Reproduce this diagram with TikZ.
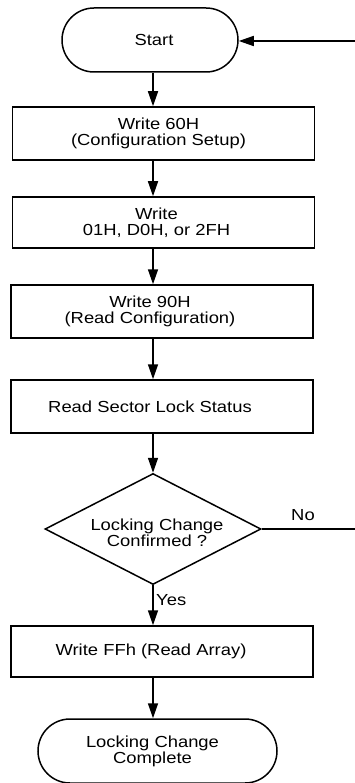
\documentclass[tikz,border=0pt]{standalone}
\usepackage{fontspec}
\setmainfont{Liberation Sans}[FakeStretch=1.15]
\usetikzlibrary{shapes.geometric,arrows.meta}
\begin{document}
\begin{tikzpicture}[x=1pt,y=-1pt,
  every node/.style={font=\fontsize{16}{16}\selectfont},
  stepbox/.style={draw, line width=1.5pt, minimum width=302pt, minimum height=52pt, inner sep=0pt},
  term/.style={draw, line width=1.5pt, rounded corners=32pt, minimum height=64pt, inner sep=0pt},
  decide/.style={draw, diamond, aspect=1.95, line width=1.5pt, minimum width=216pt, minimum height=111pt, inner sep=0pt},
  boxtext/.style={align=center, inner sep=0pt},
  arr/.style={line width=1.5pt, -{Triangle[length=15pt,width=10pt]}},
  flow/.style={line width=1.5pt},
  lbl/.style={inner sep=0pt}]
\useasboundingbox (0,0) rectangle (355,783);
% shapes
\node[term, minimum width=176pt] (start) at (150,40) {};
\node[stepbox, minimum height=53pt] (b1) at (163.5,133.5) {};
\node[stepbox, minimum height=51pt] (b2) at (163.5,222.5) {};
\node[stepbox, minimum height=53pt] (b3) at (162,311.5) {};
\node[stepbox, minimum height=53pt] (b4) at (162,406.5) {};
\node[decide] (d) at (153,529) {};
\node[stepbox, minimum height=51pt] (b5) at (162,651.5) {};
\node[term, minimum width=239pt] (end) at (157.5,751) {};
% texts
\node[boxtext] (startt) at ([xshift=4pt]start.center) {Start};
\node[boxtext] (b1t) at ([xshift=-5pt]b1.center) {Write 60H\\(Configuration Setup)};
\node[boxtext] (b2t) at ([xshift=-7pt]b2.center) {Write\\01H, D0H, or 2FH};
\node[boxtext] (b3t) at ([xshift=-12pt]b3.center) {Write 90H\\(Read Configuration)};
\node[boxtext] (b4t) at ([xshift=-12pt]b4.center) {Read Sector Lock Status};
\node[boxtext] (dt) at ([xshift=4pt,yshift=-4pt]d.center) {Locking Change\\Confirmed ?};
\node[boxtext] (b5t) at ([xshift=-11pt]b5.center) {Write FFh (Read Array)};
\node[boxtext] (endt) at ([xshift=-5pt]end.center) {Locking Change\\Complete};
\node[lbl] (no) at (303,515) {No};
\node[lbl, anchor=west] (yes) at (156,600) {Yes};
% connectors
\coordinate (col) at (153,0);
\coordinate (loopin) at (356,41);
\coordinate (noend) at (356,529);
\draw[arr] (loopin) -- (loopin -| start.east);
\draw[arr] (col |- start.south) -- (col |- b1.north);
\draw[arr] (col |- b1.south) -- (col |- b2.north);
\draw[arr] (col |- b2.south) -- (col |- b3.north);
\draw[arr] (col |- b3.south) -- (col |- b4.north);
\draw[arr] (col |- b4.south) -- (d.north);
\draw[arr] (d.south) -- (col |- b5.north);
\draw[arr] (col |- b5.south) -- (col |- end.north);
\draw[flow] (d.east) -- (noend);
\end{tikzpicture}
\end{document}
